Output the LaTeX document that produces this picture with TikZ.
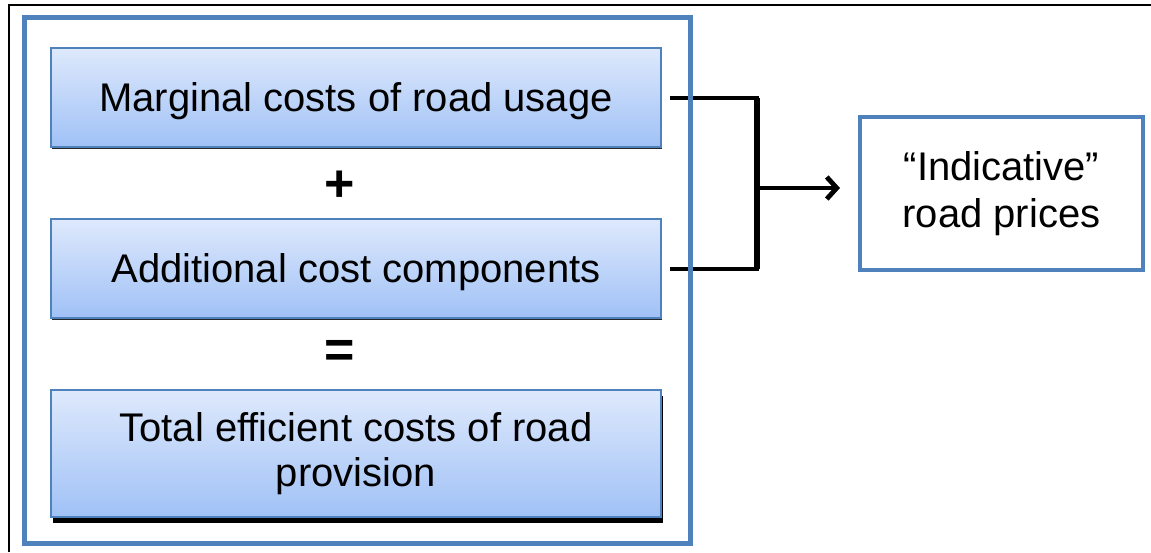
\documentclass[tikz,border=0pt]{standalone}
\usepackage{fontspec}
\setmainfont{Liberation Sans}
\usetikzlibrary{shadows, positioning, arrows.meta}
\definecolor{frameBlue}{RGB}{79,129,189}
\definecolor{boxTop}{RGB}{222,233,252}
\definecolor{boxBottom}{RGB}{160,193,246}
\tikzstyle{costBox}=[rectangle, align=center, minimum width=305pt,
minimum height=49.5pt, draw=frameBlue, line width=1pt, top color=boxTop,
bottom color=boxBottom]
\tikzstyle{thinShadow}=[drop shadow={shadow xshift=0.6pt, shadow
  yshift=-1.2pt, fill=black, opacity=0.85}]
\tikzstyle{deepShadow}=[drop shadow={shadow xshift=0.8pt, shadow
  yshift=-3pt, fill=black, opacity=1}]
\tikzstyle{sign}=[font=\fontsize{26pt}{26pt}\selectfont\bfseries]
\tikzstyle{priceBox}=[rectangle, align=center, minimum width=141.5pt,
minimum height=76.5pt, draw=frameBlue, line width=2pt, fill=white]
\tikzstyle{link}=[line width=2pt, draw=black]
\tikzstyle{arrow}=[-{Straight Barb[length=5pt, width=11pt, line width=2.4pt]}, line
width=2pt, draw=black]

\begin{document}
\begin{tikzpicture}[x=0.5pt, y=-0.5pt, node distance=35pt,
    font=\fontsize{20pt}{22.5pt}\selectfont]
      \useasboundingbox (0,0) rectangle (1151,552);
      \draw [line width=1pt] (9,552) |- (1151,5);
      \node(marg) [costBox, thinShadow, text depth=0pt] at (356,97.5)
      {Marginal costs of road usage};
      \node(addc) [costBox, thinShadow, text depth=0pt, below=of marg]
      {Additional cost components};
      \node(total) [costBox, deepShadow, minimum height=63.5pt, below=of
      addc] {Total efficient costs of road\\provision};
      \node(plus) [sign] at (340,186) {+};
      \node(equals) [sign] at (340,354) {=};
      \node(prices) [priceBox, font=\fontsize{20pt}{23.5pt}\selectfont]
      at (1001.5,193.5) {“Indicative”\\road prices};
      \coordinate(jn) at (757,188);
      \draw [link] ([xshift=4pt]marg.east) -| (jn);
      \draw [link] ([xshift=4pt]addc.east) -| (jn);
      \draw [link, line width=2.8pt] (jn |- marg.east) -- (jn |- addc.east);
      \draw [arrow, shorten >=9pt] (jn) -- (jn -| prices.west);
      \draw [line width=2.5pt, draw=frameBlue] (24,17.5) rectangle (690,543.5);
    \end{tikzpicture}
\end{document}
